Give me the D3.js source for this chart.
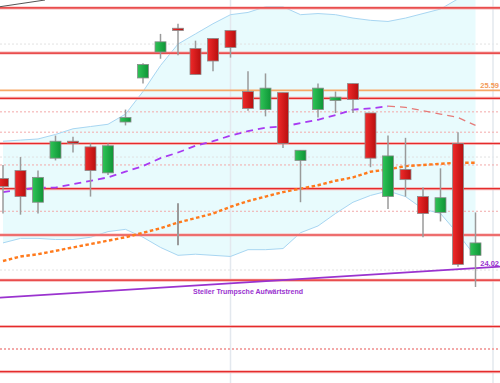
<!DOCTYPE html>
<html lang="de">

<head>
  <meta charset="utf-8">
  <title>Chart</title>
  <script src="https://d3js.org/d3.v7.min.js" charset="utf-8"></script>
  <style type="text/css">
    body {
      margin: 0;
      padding: 0;
      background: #fff;
    }

    svg {
      display: block;
    }
  </style>
</head>

<body>
  <script type="text/javascript">
    // candle data (index = trading day)
    var opens = [24.81, 24.88, 24.60, 24.99, 25.14, 25.09, 24.86, 25.31, 25.70, 25.93, 26.14, 25.96, 26.05, 26.12,
      25.58, 25.42, 25.57, 24.97, 25.42, 25.50, 25.65, 25.39, 24.65, 24.89, 24.65, 24.51, 25.12, 24.13];
    var highs = [24.93, 25.00, 24.88, 25.19, 25.18, 25.12, 25.12, 25.42, 25.83, 26.09, 26.18, 26.03, 26.05, 26.12,
      25.76, 25.74, 25.57, 25.06, 25.65, 25.58, 25.65, 25.39, 25.19, 25.17, 24.73, 24.90, 25.22, 24.51];
    var lows = [24.50, 24.49, 24.50, 24.97, 25.04, 24.65, 24.84, 25.28, 25.65, 25.87, 25.90, 25.73, 25.76, 25.88,
      25.41, 25.36, 25.08, 24.60, 25.35, 25.39, 25.39, 24.91, 24.54, 24.65, 24.29, 24.43, 24.03, 23.85];
    var closes = [24.74, 24.65, 24.82, 25.14, 25.12, 24.88, 25.10, 25.35, 25.82, 26.02, 26.12, 25.73, 25.85, 25.97,
      25.43, 25.61, 25.12, 25.06, 25.61, 25.53, 25.51, 24.99, 25.01, 24.80, 24.50, 24.64, 24.05, 24.24];

    // bollinger bands
    var upperBand = [25.14, 25.15, 25.16, 25.20, 25.25, 25.27, 25.29, 25.38, 25.58, 25.81, 26.00, 26.09, 26.18, 26.26,
      26.28, 26.33, 26.33, 26.26, 26.27, 26.26, 26.23, 26.21, 26.20, 26.23, 26.27, 26.31, 26.40, 26.52];
    var lowerBand = [24.24, 24.28, 24.28, 24.27, 24.27, 24.29, 24.34, 24.36, 24.29, 24.20, 24.13, 24.14, 24.13, 24.12,
      24.18, 24.18, 24.19, 24.33, 24.39, 24.50, 24.60, 24.66, 24.70, 24.65, 24.54, 24.50, 24.32, 24.12];

    // moving averages
    var maShort = [24.69, 24.71, 24.73, 24.73, 24.76, 24.79, 24.82, 24.87, 24.92, 24.99, 25.04, 25.10, 25.14, 25.19,
      25.23, 25.26, 25.27, 25.30, 25.33, 25.37, 25.42, 25.43, 25.45, 25.44, 25.41, 25.38, 25.35, 25.28];
    var maLong = [24.08, 24.12, 24.14, 24.17, 24.20, 24.23, 24.26, 24.29, 24.33, 24.37, 24.42, 24.46, 24.50, 24.56,
      24.61, 24.65, 24.69, 24.72, 24.75, 24.79, 24.82, 24.87, 24.89, 24.92, 24.93, 24.94, 24.95, 24.95];

    // horizontal levels
    var redLevels = [26.32, 25.92, 25.52, 25.12, 24.72, 24.31, 23.91, 23.50, 23.10];
    var dottedLevels = [25.40, 25.22, 24.93, 24.52, 23.30];
    var gridLevels = [24, 25, 26];
    var markLevel = 25.59;
    var separators = [13, 28];

    // trend lines
    var trendUp = [{ i: -0.2, p: 23.755 }, { i: 28.4, p: 24.03 }];
    var trendOld = [{ i: -0.2, p: 26.33 }, { i: 2.4, p: 26.39 }];
    var trendName = "Steiler Trumpsche Aufwärtstrend";
    var trendLabel = "24.02";
    var markLabel = "25.59";

    // extra bodyless wick
    var gapWick = { i: 10, hi: 24.59, lo: 24.22 };

    var width = 500,
      height = 383,
      candleW = 11;

    var candles = opens.map(function (o, i) {
      return { i: i, o: o, h: highs[i], l: lows[i], c: closes[i] };
    });

    var x = d3.scaleLinear()
      .domain([0, 27])
      .range([3, 475.5]);

    var y = d3.scaleLinear()
      .domain([23.0, 26.39])
      .range([height, 0]);

    var svg = d3.select("body")
      .append("svg")
      .attr("width", width)
      .attr("height", height)
      .style("font-family", "'Liberation Sans', Arial, sans-serif");

    var defs = svg.append("defs");
    var gRed = defs.append("linearGradient").attr("id", "gRed");
    gRed.append("stop").attr("offset", "0%").attr("stop-color", "#f02a2a");
    gRed.append("stop").attr("offset", "100%").attr("stop-color", "#b80f0f");
    var gGreen = defs.append("linearGradient").attr("id", "gGreen");
    gGreen.append("stop").attr("offset", "0%").attr("stop-color", "#2fc457");
    gGreen.append("stop").attr("offset", "100%").attr("stop-color", "#0e9436");

    svg.append("rect")
      .attr("width", width)
      .attr("height", height)
      .attr("fill", "#fff");

    // band fill
    var bandArea = d3.area()
      .x(function (d, i) { return x(i); })
      .y0(function (d, i) { return y(lowerBand[i]); })
      .y1(function (d) { return y(d); });

    svg.append("path")
      .datum(upperBand)
      .attr("d", bandArea)
      .attr("fill", "#e8fbfd");

    // grid
    svg.selectAll(".grid")
      .data(gridLevels)
      .enter()
      .append("line")
      .attr("class", "grid")
      .attr("x1", 0)
      .attr("x2", width)
      .attr("y1", function (d) { return y(d); })
      .attr("y2", function (d) { return y(d); })
      .attr("stroke", "#e2e2e2")
      .attr("stroke-dasharray", "2,2");

    svg.selectAll(".sep")
      .data(separators)
      .enter()
      .append("line")
      .attr("class", "sep")
      .attr("x1", function (d) { return x(d); })
      .attr("x2", function (d) { return x(d); })
      .attr("y1", 0)
      .attr("y2", height)
      .attr("stroke", "#e3e8ee")
      .attr("stroke-width", 1.5);

    svg.selectAll(".dot")
      .data(dottedLevels)
      .enter()
      .append("line")
      .attr("class", "dot")
      .attr("x1", 0)
      .attr("x2", width)
      .attr("y1", function (d) { return y(d); })
      .attr("y2", function (d) { return y(d); })
      .attr("stroke", "#f3a9a9")
      .attr("stroke-width", function (d, i) { return i == dottedLevels.length - 1 ? 2 : 1; })
      .attr("stroke-dasharray", "2,2");

    // band lines
    var line = d3.line()
      .x(function (d, i) { return x(i); })
      .y(function (d) { return y(d); });

    [upperBand, lowerBand].forEach(function (b) {
      svg.append("path")
        .datum(b)
        .attr("d", line)
        .attr("fill", "none")
        .attr("stroke", "#a8d6f2")
        .attr("stroke-width", 1);
    });

    // red levels
    svg.selectAll(".lvlbg")
      .data(redLevels)
      .enter()
      .append("line")
      .attr("class", "lvlbg")
      .attr("x1", 0)
      .attr("x2", width)
      .attr("y1", function (d) { return y(d); })
      .attr("y2", function (d) { return y(d); })
      .attr("stroke", "#f6b3b3")
      .attr("stroke-width", 3);

    svg.selectAll(".lvl")
      .data(redLevels)
      .enter()
      .append("line")
      .attr("class", "lvl")
      .attr("x1", 0)
      .attr("x2", width)
      .attr("y1", function (d) { return y(d); })
      .attr("y2", function (d) { return y(d); })
      .attr("stroke", "#e52b2b")
      .attr("stroke-width", 1.2);

    svg.append("line")
      .attr("x1", 0)
      .attr("x2", width)
      .attr("y1", y(markLevel))
      .attr("y2", y(markLevel))
      .attr("stroke", "#f7a867")
      .attr("stroke-width", 1.6);

    // trend lines
    var tline = d3.line()
      .x(function (d) { return x(d.i); })
      .y(function (d) { return y(d.p); });

    svg.append("path")
      .datum(trendOld)
      .attr("d", tline)
      .attr("stroke", "#555")
      .attr("stroke-width", 1)
      .attr("fill", "none");

    svg.append("path")
      .datum(trendUp)
      .attr("d", tline)
      .attr("stroke", "#9a33cf")
      .attr("stroke-width", 1.6)
      .attr("fill", "none");

    // moving averages
    svg.append("path")
      .datum(maLong)
      .attr("d", line)
      .attr("fill", "none")
      .attr("stroke", "#ff7a1c")
      .attr("stroke-width", 2.4)
      .attr("stroke-dasharray", "3.5,2.5");

    // short MA: purple when rising, salmon when falling
    var runs = [];
    for (var k = 1; k < maShort.length; k++) {
      var up = maShort[k] >= maShort[k - 1];
      var last = runs[runs.length - 1];
      if (last && last.up == up) {
        last.pts.push(k);
      } else {
        runs.push({ up: up, pts: [k - 1, k] });
      }
    }

    var mline = d3.line()
      .x(function (d) { return x(d); })
      .y(function (d) { return y(maShort[d]); });

    svg.selectAll(".ma")
      .data(runs)
      .enter()
      .append("path")
      .attr("class", "ma")
      .attr("d", function (d) { return mline(d.pts); })
      .attr("fill", "none")
      .attr("stroke", function (d) { return d.up ? "#a83af2" : "#e57a78"; })
      .attr("stroke-width", function (d) { return d.up ? 1.8 : 1.3; })
      .attr("stroke-dasharray", "7,5");

    // candles
    svg.append("line")
      .attr("x1", x(gapWick.i))
      .attr("x2", x(gapWick.i))
      .attr("y1", y(gapWick.hi))
      .attr("y2", y(gapWick.lo))
      .attr("stroke", "#9a9a9a")
      .attr("stroke-width", 2);

    var cg = svg.selectAll(".candle")
      .data(candles)
      .enter()
      .append("g")
      .attr("class", "candle");

    cg.append("line")
      .attr("x1", function (d) { return x(d.i); })
      .attr("x2", function (d) { return x(d.i); })
      .attr("y1", function (d) { return y(d.h); })
      .attr("y2", function (d) { return y(d.l); })
      .attr("stroke", "#9a9a9a")
      .attr("stroke-width", 1.5);

    cg.append("rect")
      .attr("x", function (d) { return x(d.i) - candleW / 2; })
      .attr("width", candleW)
      .attr("y", function (d) { return y(Math.max(d.o, d.c)); })
      .attr("height", function (d) { return Math.max(2, Math.abs(y(d.o) - y(d.c))); })
      .attr("fill", function (d) { return d.c < d.o ? "url(#gRed)" : "url(#gGreen)"; })
      .attr("stroke", "#8c8c8c")
      .attr("stroke-width", 0.8);

    // labels (kept inside the right edge)
    svg.append("text")
      .attr("x", width - 1)
      .attr("y", y(markLevel) - 2)
      .attr("text-anchor", "end")
      .attr("fill", "#f39a58")
      .attr("font-size", "7.5px")
      .attr("font-weight", "bold")
      .text(markLabel);

    svg.append("text")
      .attr("x", width - 1)
      .attr("y", y(trendUp[1].p) - 0.5)
      .attr("text-anchor", "end")
      .attr("fill", "#9a33cf")
      .attr("font-size", "7.5px")
      .attr("font-weight", "bold")
      .text(trendLabel);

    svg.append("text")
      .attr("x", 193)
      .attr("y", 294)
      .attr("fill", "#9a33cf")
      .attr("font-size", "7.5px")
      .attr("font-weight", "bold")
      .attr("textLength", 110)
      .attr("lengthAdjust", "spacingAndGlyphs")
      .text(trendName);
  </script>
</body>

</html>
